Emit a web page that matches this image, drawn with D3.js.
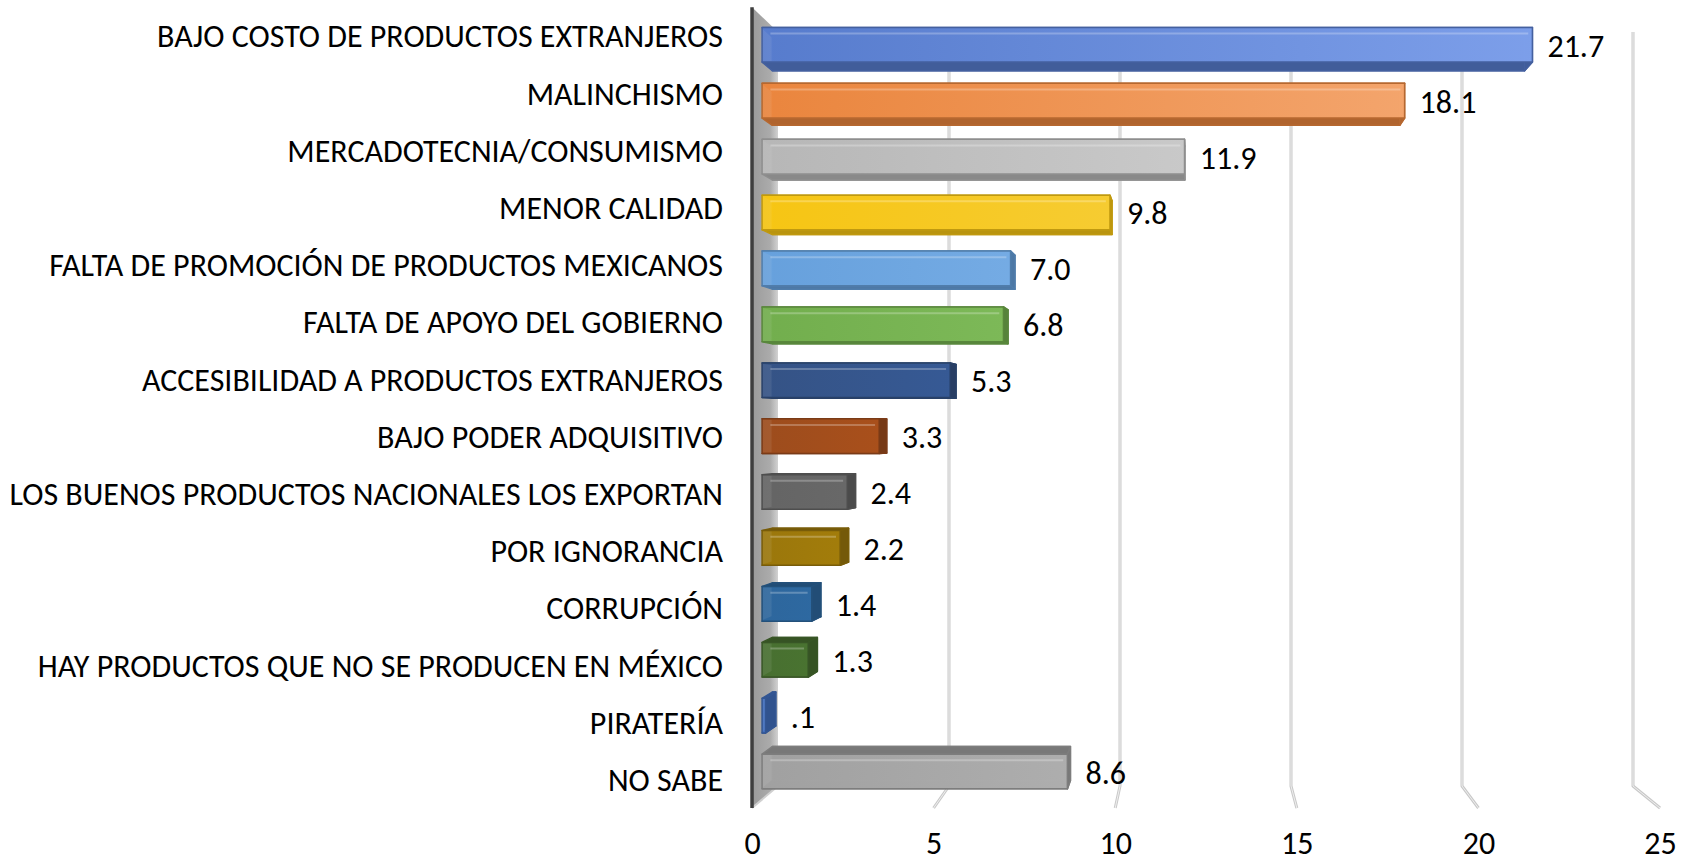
<!DOCTYPE html>
<html><head><meta charset="utf-8">
<script src="https://cdn.jsdelivr.net/npm/d3@7"></script>
<style>body{margin:0;background:#fff;} svg{display:block;}</style>
</head><body>
<svg id="chart" width="1692" height="860"></svg>
<script>
const categories = [
  "BAJO COSTO DE PRODUCTOS EXTRANJEROS",
  "MALINCHISMO",
  "MERCADOTECNIA/CONSUMISMO",
  "MENOR CALIDAD",
  "FALTA DE PROMOCIÓN DE PRODUCTOS MEXICANOS",
  "FALTA DE APOYO DEL GOBIERNO",
  "ACCESIBILIDAD A PRODUCTOS EXTRANJEROS",
  "BAJO PODER ADQUISITIVO",
  "LOS BUENOS PRODUCTOS NACIONALES LOS EXPORTAN",
  "POR IGNORANCIA",
  "CORRUPCIÓN",
  "HAY PRODUCTOS QUE NO SE PRODUCEN EN MÉXICO",
  "PIRATERÍA",
  "NO SABE"
];
const values = [21.7, 18.1, 11.9, 9.8, 7.0, 6.8, 5.3, 3.3, 2.4, 2.2, 1.4, 1.3, 0.1, 8.6];
const xTicks = [0, 5, 10, 15, 20, 25];
const palette = ["#5a80d4", "#f28a40", "#bdbdbd", "#ffcc14", "#6aa6e4", "#76b450",
                 "#37568a", "#a24f1e", "#686868", "#a07b0c", "#2f6aa2", "#4a7332",
                 "#4472c4", "#a6a6a6"];

const svg = d3.select("#chart");
const FONT = "Carlito, Calibri, Lato, sans-serif";
const FS = 32;

// 3D layout (back-wall plane coordinates)
const xScale = d3.scaleLinear().domain([0, 25]).range([778, 1633]);
const yScale = d3.scaleBand().domain(categories).range([32, 786]).paddingInner(0.38).paddingOuter(0.19);
const depth = d3.scaleLinear().domain([0, 1]).range([1, 1.062]); // back -> front magnification
const VX = 1197, VY = 431;
function P(X, Y, d) { const s = depth(d); return [VX + (X - VX) * s, VY + (Y - VY) * s]; }
const poly = pts => pts.map(p => p.join(",")).join(" ");

const yTop = yScale.range()[0], yBot = yScale.range()[1];
const x0 = xScale(0);
const defs = svg.append("defs");

// left wall
const wg = defs.append("linearGradient").attr("id", "wallG")
  .attr("gradientUnits", "userSpaceOnUse")
  .attr("x1", P(x0, 0, 1)[0]).attr("x2", x0).attr("y1", 0).attr("y2", 0);
wg.append("stop").attr("offset", 0).attr("stop-color", "#9b9b9b");
wg.append("stop").attr("offset", 0.7).attr("stop-color", "#ababab");
wg.append("stop").attr("offset", 1).attr("stop-color", "#d2d2d2");
svg.append("polygon")
  .attr("points", poly([P(x0, yTop, 0), P(x0, yTop, 1), P(x0, yBot, 1), P(x0, yBot, 0)]))
  .attr("fill", "url(#wallG)");
svg.append("line")
  .attr("x1", P(x0, yBot, 0)[0]).attr("y1", P(x0, yBot, 0)[1])
  .attr("x2", P(x0, yBot, 1)[0]).attr("y2", P(x0, yBot, 1)[1])
  .attr("stroke", "#d0d0d0").attr("stroke-width", 2);

// gridlines (back wall + floor)
const grid = svg.append("g");
xTicks.filter(t => t > 0).forEach(t => {
  const pts = [P(xScale(t), yTop, 0), P(xScale(t), yBot, 0), P(xScale(t), yBot, 1)];
  grid.append("polyline").attr("points", poly(pts)).attr("fill", "none")
    .attr("stroke", "#c9c9c9").attr("stroke-width", 3).attr("stroke-linejoin", "round");
  grid.append("polyline").attr("points", poly(pts)).attr("fill", "none")
    .attr("stroke", "#efefef").attr("stroke-width", 1).attr("stroke-linejoin", "round");
});

// bars
const dB = 0.22, dF = 0.613;
const bars = svg.append("g");
categories.forEach((c, i) => {
  const v = values[i];
  const base = d3.color(palette[i]);
  const h = d3.hsl(base);
  const light = d3.hsl(h.h, Math.min(1, (h.s || 0) * 1.45), Math.min(0.95, h.l + 0.15));
  const gid = "barG" + i;
  const g = defs.append("linearGradient").attr("id", gid)
    .attr("gradientUnits", "userSpaceOnUse")
    .attr("x1", P(xScale(0), 0, dF)[0]).attr("x2", P(xScale(22), 0, dF)[0])
    .attr("y1", 0).attr("y2", 0);
  g.append("stop").attr("offset", 0).attr("stop-color", base.formatHex());
  g.append("stop").attr("offset", 1).attr("stop-color", light.formatHex());

  const xa = xScale(0), xb = xScale(v);
  const ya = yScale(c), yb = ya + yScale.bandwidth();
  const side = base.darker(0.9).formatHex();
  const edge = base.darker(0.8).formatHex();
  const faces = [
    { pts: [P(xa, ya, dB), P(xb, ya, dB), P(xb, yb, dB), P(xa, yb, dB)], fill: side, op: 1 },
    { pts: [P(xa, ya, dB), P(xb, ya, dB), P(xb, ya, dF), P(xa, ya, dF)], fill: side, op: 1 },
    { pts: [P(xa, yb, dB), P(xb, yb, dB), P(xb, yb, dF), P(xa, yb, dF)], fill: side, op: 1 },
    { pts: [P(xb, ya, dB), P(xb, yb, dB), P(xb, yb, dF), P(xb, ya, dF)], fill: side, op: 1 },
    { pts: [P(xa, ya, dF), P(xb, ya, dF), P(xb, yb, dF), P(xa, yb, dF)], fill: "url(#" + gid + ")", op: 0.88 }
  ];
  faces.forEach(f => {
    bars.append("polygon").attr("points", poly(f.pts))
      .attr("fill", f.fill).attr("fill-opacity", f.op)
      .attr("stroke", edge).attr("stroke-width", 1.5).attr("stroke-linejoin", "round");
  });
  // glass highlight
  const inset = [P(xa + 8, ya + 4, dF), P(xb - 4, ya + 4, dF)];
  bars.append("line").attr("x1", inset[0][0]).attr("y1", inset[0][1] + 2)
    .attr("x2", Math.max(inset[0][0], inset[1][0])).attr("y2", inset[1][1] + 2)
    .attr("stroke", "#ffffff").attr("stroke-opacity", 0.25).attr("stroke-width", 2);

  // value label
  const rightX = Math.max(P(xb, ya, dF)[0], P(xb, ya, dB)[0]);
  const cy = (P(xb, ya, dF)[1] + P(xb, yb, dF)[1]) / 2 + 1.5;
  const txt = d3.format(".1f")(v).replace(/^0\./, ".");
  svg.append("text").attr("x", rightX + 15).attr("y", cy)
    .attr("dominant-baseline", "central")
    .attr("font-family", FONT).attr("font-size", FS).attr("fill", "#000")
    .text(txt);
});

// vertical axis line (front-left edge)
svg.append("line")
  .attr("x1", P(x0, yTop, 1)[0]).attr("y1", P(x0, yTop, 1)[1])
  .attr("x2", P(x0, yBot, 1)[0]).attr("y2", P(x0, yBot, 1)[1])
  .attr("stroke", "#3f3f3f").attr("stroke-width", 3.5);

// category labels at front plane
categories.forEach(c => {
  const yc = P(x0, yScale(c) + yScale.bandwidth() / 2, 1)[1] + 1;
  svg.append("text").attr("x", 723).attr("y", yc)
    .attr("text-anchor", "end").attr("dominant-baseline", "central")
    .attr("font-family", FONT).attr("font-size", FS).attr("fill", "#000")
    .text(c);
});

// value axis (front floor edge)
const frontScale = d3.scaleLinear().domain(xScale.domain())
  .range([P(xScale.range()[0], yBot, 1)[0], P(xScale.range()[1], yBot, 1)[0]]);
const axis = svg.append("g")
  .attr("transform", `translate(0,${P(x0, yBot, 1)[1]})`)
  .call(d3.axisBottom(frontScale).tickValues(xTicks).tickSize(0).tickPadding(0).tickFormat(d3.format("d")));
axis.select(".domain").remove();
axis.selectAll("text").attr("font-family", FONT).attr("font-size", FS).attr("fill", "#000")
  .attr("dy", null).attr("y", 35).attr("dominant-baseline", "central");
</script>
</body></html>
